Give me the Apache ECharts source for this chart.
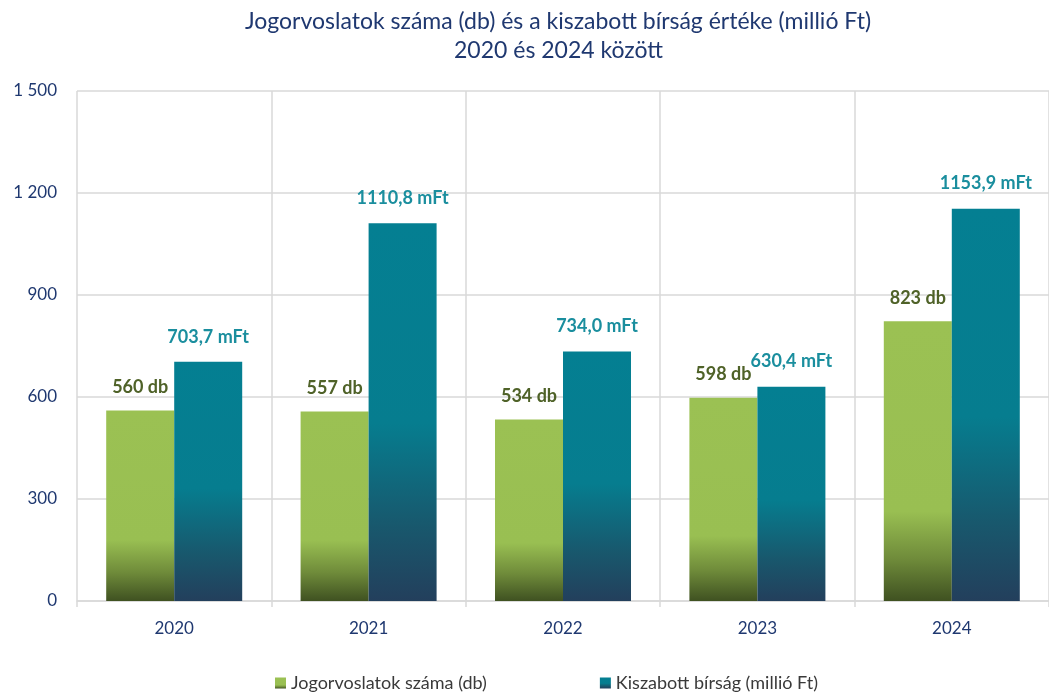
<!DOCTYPE html>
<html lang="hu">
<head>
    <meta charset="UTF-8">
    <title>Jogorvoslatok</title>
    <script src="https://cdn.jsdelivr.net/npm/echarts@6/dist/echarts.min.js"></script>
    <style>
        html, body { margin: 0; padding: 0; background: #fff; }
    </style>
</head>
<body>
    <div id="chart" style="width: 1049px; height: 697px;"></div>
<script type="text/javascript">
    // adatok
    var years = ['2020', '2021', '2022', '2023', '2024'];
    var jogorvoslatok = [560, 557, 534, 598, 823];
    var birsag = [703.7, 1110.8, 734.0, 630.4, 1153.9];
    var yTicks = [0, 300, 600, 900, 1200, 1500];

    var chart = echarts.init(document.getElementById('chart'));

    var font = 'Lato, "Open Sans", sans-serif';
    var titleStyle = {
        fontFamily: font,
        fontWeight: 'normal',
        fontSize: 23,
        color: '#1f3870'
    };

    var greenGrad = new echarts.graphic.LinearGradient(0, 0, 0, 1, [
        { offset: 0, color: '#9bc153' },
        { offset: 0.68, color: '#99bf52' },
        { offset: 0.85, color: '#6f8b3a' },
        { offset: 1, color: '#3f5121' }
    ]);
    var tealGrad = new echarts.graphic.LinearGradient(0, 0, 0, 1, [
        { offset: 0, color: '#047f92' },
        { offset: 0.53, color: '#067d8f' },
        { offset: 0.8, color: '#18586d' },
        { offset: 1, color: '#233f5c' }
    ]);

    var option = {
        title: [
            {
                text: 'Jogorvoslatok száma (db) és a kiszabott bírság értéke (millió Ft)',
                left: 240,
                top: 5,
                textStyle: titleStyle
            },
            {
                text: '2020 és 2024 között',
                left: 449,
                top: 34,
                textStyle: titleStyle
            }
        ],
        legend: {
            bottom: 0,
            left: 270,
            itemGap: 113,
            itemWidth: 11,
            itemHeight: 11,
            icon: 'rect',
            textStyle: { fontFamily: font, fontSize: 18, color: '#3a3a3a' },
            data: ['Jogorvoslatok száma (db)', 'Kiszabott bírság (millió Ft)']
        },
        grid: {
            left: 77,
            right: -13,
            top: 91,
            bottom: 96
        },
        xAxis: {
            type: 'category',
            data: years,
            axisTick: { show: true, length: 6, lineStyle: { color: '#d9d9d9', width: 1.5 } },
            axisLine: { lineStyle: { color: '#d9d9d9', width: 1.5 } },
            axisLabel: { fontFamily: font, fontSize: 17, color: '#1f3870', margin: 19 },
            splitLine: { show: true, lineStyle: { color: '#d9d9d9', width: 1.5 } }
        },
        yAxis: {
            type: 'value',
            min: yTicks[0],
            max: yTicks[yTicks.length - 1],
            interval: 300,
            axisLine: { show: false },
            axisTick: { show: false },
            axisLabel: {
                fontFamily: font,
                fontSize: 17,
                color: '#1f3870',
                margin: 20,
                formatter: function (v) {
                    return String(v).replace(/\B(?=(\d{3})+(?!\d))/g, ' ');
                }
            },
            splitLine: { lineStyle: { color: '#d9d9d9', width: 1.5 } }
        },
        series: [
            {
                name: 'Jogorvoslatok száma (db)',
                type: 'bar',
                data: jogorvoslatok,
                barWidth: 68,
                barGap: '0%',
                itemStyle: { color: greenGrad },
                label: {
                    show: true,
                    position: 'top',
                    distance: 14,
                    fontFamily: font,
                    fontWeight: 'bold',
                    fontSize: 18,
                    color: '#4f6228',
                    formatter: function (p) { return p.value + ' db'; }
                }
            },
            {
                name: 'Kiszabott bírság (millió Ft)',
                type: 'bar',
                data: birsag,
                barWidth: 68,
                itemStyle: { color: tealGrad },
                label: {
                    show: true,
                    position: 'top',
                    distance: 16,
                    fontFamily: font,
                    fontWeight: 'bold',
                    fontSize: 18,
                    color: '#1a8e9e',
                    formatter: function (p) { return p.value.toFixed(1).replace('.', ',') + ' mFt'; }
                }
            }
        ]
    };

    chart.setOption(option);
</script>
</body>
</html>
